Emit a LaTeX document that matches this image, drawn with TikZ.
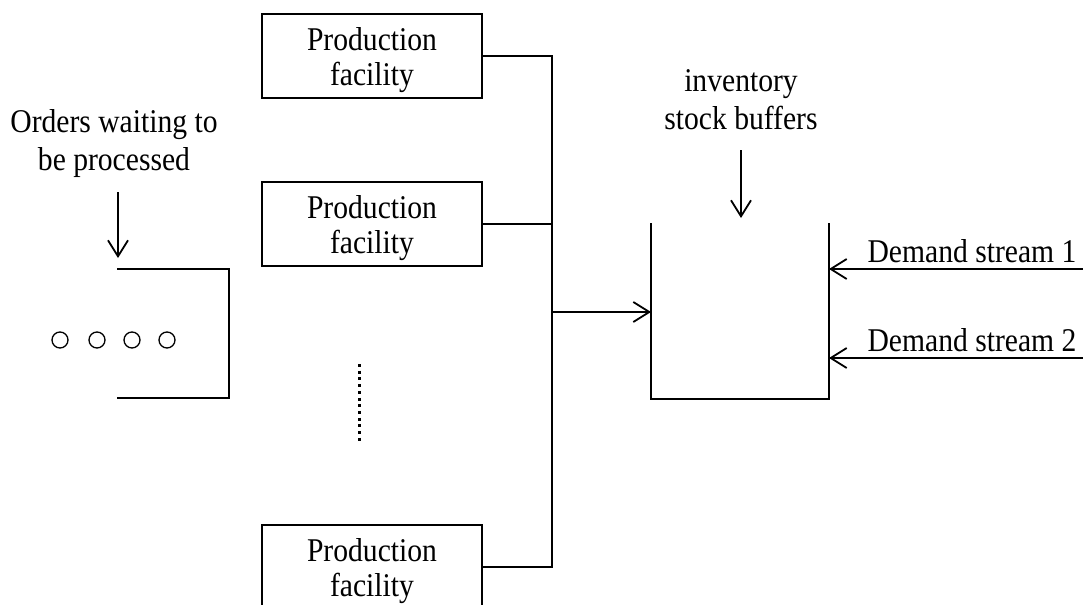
\documentclass[tikz,border=0pt]{standalone}
\usepackage{fontspec}
\setmainfont{Liberation Serif}
\newfontfamily\tallserif[FakeStretch=0.893]{Liberation Serif}
\usetikzlibrary{arrows.meta}
\begin{document}
\begin{tikzpicture}[x=0.5pt,y=-0.5pt,
  txt/.style={font=\tallserif\fontsize{16.58}{19}\selectfont, align=center, inner sep=0pt, text depth=0pt},
  facility/.style={draw, line width=1pt, minimum width=110pt, minimum height=42pt,
    font=\tallserif\fontsize{16.58}{17.5}\selectfont, align=center, inner sep=0pt, text depth=0pt},
  conn/.style={line width=1pt},
  arr/.style={line width=0.9pt, -{Straight Barb[length=8pt,width=10pt]}},
  wall/.style={line width=1.35pt},
  tok/.style={circle, draw, line width=0.65pt, minimum size=8pt, inner sep=0pt},
  dots/.style={line width=1.5pt, dash pattern=on 1.5pt off 1.85pt}]
\clip (0,0) rectangle (1083,605);
% production facilities
\node[facility] (f1) at (372,56) {Production\\facility};
\node[facility] (f2) at (372,224) {Production\\facility};
\node[facility] (f3) at (372,567) {Production\\facility};
\coordinate (dt) at (359,364);
\coordinate (db) at (359,444);
\draw[dots] (dt) -- (db);
% collecting bus
\coordinate (bt) at (552,56);
\coordinate (bb) at (552,567);
\coordinate (bm) at (552,312);
\draw[conn] (f1.east) -- (bt) -- (bb) -- (f3.east);
\draw[conn] (f2.east) -- (f2.east -| bt);
% inventory buffer
\coordinate (btl) at (651,223);
\coordinate (btr) at (829,223);
\coordinate (bbl) at (651,399);
\coordinate (bbr) at (829,399);
\draw[wall] (btl) -- (bbl) -- (bbr) -- (btr);
\draw[arr] (bm) -- (bm -| btl);
\node[txt, anchor=south] (il) at (741,130) {inventory\\stock buffers};
\coordinate (ia) at (741,150);
\coordinate (ib) at (741,218);
\draw[arr] (ia) -- (ib);
% demand streams
\coordinate (d1) at (1083,269);
\coordinate (d2) at (1083,358);
\draw[arr] (d1) -- (d1 -| btr);
\draw[arr] (d2) -- (d2 -| btr);
\node[txt, anchor=base] (dl1) at (972,262) {Demand stream 1};
\node[txt, anchor=base] (dl2) at (972,351) {Demand stream 2};
% order queue
\coordinate (qtl) at (117,269);
\coordinate (qtr) at (229,269);
\coordinate (qbr) at (229,398);
\coordinate (qbl) at (117,398);
\draw[wall] (qtl) -- (qtr) -- (qbr) -- (qbl);
\node[txt, anchor=south] (ol) at (114,171) {Orders waiting to\\be processed};
\coordinate (oa) at (118,192);
\coordinate (ob) at (118,258);
\draw[arr] (oa) -- (ob);
\node[tok] (c1) at (60,340) {};
\node[tok] (c2) at (97,340) {};
\node[tok] (c3) at (132,340) {};
\node[tok] (c4) at (167,340) {};
\end{tikzpicture}
\end{document}
